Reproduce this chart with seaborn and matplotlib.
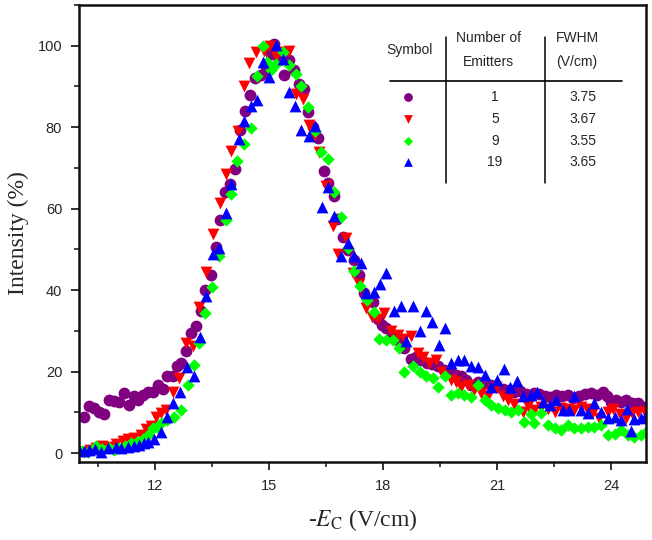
import numpy as np
import pandas as pd
import seaborn as sns
from matplotlib import pyplot as plt
from matplotlib.ticker import MultipleLocator

# emitters = 1 (purple circles)
x1 = [10.13, 10.27, 10.4, 10.53, 10.67, 10.8, 10.93, 11.06, 11.18, 11.31,
      11.44, 11.56, 11.68, 11.81, 11.94, 12.07, 12.2, 12.33, 12.47, 12.58,
      12.68, 12.82, 12.95, 13.08, 13.2, 13.33, 13.47, 13.6, 13.72, 13.85,
      13.98, 14.11, 14.24, 14.38, 14.5, 14.64, 14.79, 14.92, 15.05, 15.14,
      15.27, 15.4, 15.53, 15.66, 15.8, 15.93, 16.03, 16.15, 16.3, 16.44,
      16.56, 16.7, 16.8, 16.94, 17.07, 17.23, 17.38, 17.51, 17.6, 17.73,
      17.86, 17.97, 18.08, 18.23, 18.39, 18.56, 18.74, 18.87, 19.0, 19.15,
      19.3, 19.44, 19.6, 19.79, 19.92, 20.05, 20.18, 20.32, 20.5, 20.67,
      20.85, 21.0, 21.15, 21.3, 21.45, 21.6, 21.75, 21.97, 22.1, 22.25,
      22.4, 22.55, 22.7, 22.86, 23.0, 23.15, 23.3, 23.47, 23.62, 23.78,
      23.9, 24.0, 24.13, 24.26, 24.4, 24.55, 24.7, 24.88]
y1 = [8.9, 11.6, 11.0, 10.2, 9.6, 13.1, 12.9, 12.6, 14.7, 11.8,
      13.9, 13.0, 14.3, 15.0, 15.0, 16.7, 15.7, 18.8, 18.8, 21.3,
      22.1, 25.0, 29.5, 31.1, 35.0, 40.0, 43.6, 50.5, 57.2, 64.0,
      66.0, 69.7, 79.3, 84.0, 87.8, 92.1, 92.7, 94.0, 98.0, 100.5,
      96.6, 92.7, 96.4, 94.0, 90.6, 89.5, 83.7, 80.0, 77.3, 69.3,
      66.4, 63.0, 57.4, 53.1, 49.8, 47.4, 43.8, 39.2, 37.3, 37.0,
      32.8, 31.5, 30.7, 29.0, 27.8, 25.8, 23.1, 23.5, 22.9, 22.0,
      21.8, 21.3, 20.5, 19.6, 19.2, 18.8, 18.0, 16.7, 17.5, 17.3,
      16.8, 16.3, 15.8, 15.5, 15.0, 15.2, 14.6, 14.8, 14.5, 14.0,
      13.8, 14.2, 14.0, 14.3, 13.6, 14.0, 14.5, 14.8, 14.2, 15.0,
      14.0, 12.6, 13.0, 12.6, 13.0, 12.4, 12.2, 11.4]

# emitters = 5 (red down triangles)
x5 = [10.14, 10.3, 10.45, 10.62, 10.8, 10.97, 11.15, 11.3, 11.46, 11.63,
      11.76, 11.9, 12.03, 12.15, 12.29, 12.47, 12.64, 12.82, 12.99, 13.17,
      13.34, 13.52, 13.7, 13.87, 14.0, 14.18, 14.35, 14.48, 14.66, 14.88,
      15.03, 15.18, 15.34, 15.53, 15.71, 15.89, 16.05, 16.19, 16.32, 16.5,
      16.68, 16.82, 17.03, 17.2, 17.38, 17.55, 17.7, 17.86, 18.03, 18.2,
      18.39, 18.56, 18.74, 18.91, 19.05, 19.22, 19.39, 19.55, 19.79, 19.92,
      20.05, 20.23, 20.4, 20.58, 20.75, 20.97, 21.15, 21.28, 21.45, 21.68,
      21.82, 21.98, 22.15, 22.33, 22.51, 22.68, 22.86, 23.03, 23.2, 23.36,
      23.52, 23.69, 23.91, 24.06, 24.22, 24.39, 24.55, 24.7, 24.88]
y5 = [0.3, 0.8, 1.2, 1.7, 1.5, 2.2, 3.0, 3.5, 3.6, 4.4,
      5.8, 6.7, 8.9, 9.8, 10.6, 15.1, 18.4, 27.0, 26.2, 35.9,
      44.4, 53.7, 61.5, 68.5, 74.2, 79.1, 90.2, 95.7, 98.4, 98.8,
      100.0, 97.6, 98.4, 98.7, 88.2, 86.9, 80.5, 77.9, 73.8, 65.6,
      55.7, 48.8, 52.9, 44.3, 41.4, 35.6, 33.5, 32.8, 34.4, 30.0,
      29.0, 28.0, 28.7, 24.6, 23.5, 22.1, 22.9, 20.0, 18.0, 17.5,
      16.3, 16.7, 15.5, 14.8, 13.9, 16.3, 13.9, 13.0, 12.0, 10.2,
      11.5, 10.6, 11.2, 10.8, 10.2, 11.0, 10.8, 10.6, 11.4, 10.8,
      10.2, 8.5, 10.2, 10.8, 9.5, 8.5, 9.8, 10.2, 10.0]

# emitters = 9 (green diamonds)
x9 = [10.08, 10.23, 10.45, 10.6, 10.78, 10.92, 11.06, 11.22, 11.37, 11.52,
      11.68, 11.81, 11.94, 12.05, 12.16, 12.33, 12.51, 12.68, 12.86, 13.03,
      13.17, 13.32, 13.49, 13.68, 13.87, 14.0, 14.16, 14.35, 14.53, 14.68,
      14.83, 14.95, 15.05, 15.18, 15.36, 15.53, 15.71, 15.84, 16.03, 16.2,
      16.37, 16.54, 16.72, 16.89, 17.07, 17.23, 17.4, 17.57, 17.75, 17.9,
      18.08, 18.25, 18.43, 18.56, 18.78, 18.96, 19.13, 19.31, 19.44, 19.62,
      19.79, 19.97, 20.14, 20.32, 20.49, 20.67, 20.84, 21.02, 21.2, 21.37,
      21.55, 21.72, 21.88, 21.98, 22.16, 22.34, 22.51, 22.68, 22.86, 23.03,
      23.21, 23.38, 23.56, 23.74, 23.91, 24.09, 24.26, 24.44, 24.61, 24.79,
      24.92]
y9 = [0.5, 0.3, 1.7, 1.0, 1.3, 0.8, 1.2, 1.8, 2.4, 2.8,
      3.4, 4.5, 6.1, 6.5, 7.3, 8.0, 8.9, 10.6, 16.7, 21.7,
      27.0, 34.4, 40.8, 48.5, 57.2, 63.7, 71.8, 76.0, 79.8, 92.5,
      100.0, 96.0, 94.0, 95.6, 98.4, 95.2, 93.1, 90.2, 84.9, 79.0,
      73.8, 72.2, 64.0, 58.0, 50.4, 44.7, 41.1, 37.5, 34.6, 28.0,
      27.8, 27.7, 25.8, 20.0, 21.4, 20.0, 18.8, 18.4, 16.3, 18.8,
      14.3, 14.7, 14.3, 13.7, 16.7, 13.1, 11.8, 11.0, 10.6, 10.2,
      10.6, 7.7, 9.5, 7.3, 9.8, 6.9, 6.1, 5.7, 6.9, 6.1,
      6.1, 6.5, 6.5, 6.9, 4.4, 4.8, 5.7, 4.4, 4.0, 4.4,
      5.2]

# emitters = 19 (blue up triangles)
x19 = [10.01, 10.14, 10.27, 10.42, 10.58, 10.76, 10.97, 11.12, 11.28, 11.44,
       11.59, 11.7, 11.81, 11.98, 12.16, 12.33, 12.47, 12.67, 12.84, 13.02,
       13.19, 13.34, 13.52, 13.69, 13.87, 14.0, 14.22, 14.33, 14.53, 14.68,
       14.83, 15.01, 15.18, 15.36, 15.53, 15.68, 15.84, 16.06, 16.21, 16.39,
       16.54, 16.72, 16.89, 17.07, 17.24, 17.42, 17.55, 17.75, 17.93, 18.08,
       18.28, 18.46, 18.61, 18.78, 18.96, 19.13, 19.28, 19.46, 19.63, 19.79,
       19.97, 20.14, 20.32, 20.49, 20.67, 20.83, 21.0, 21.18, 21.33, 21.53,
       21.68, 21.88, 22.05, 22.2, 22.38, 22.55, 22.73, 22.9, 23.03, 23.21,
       23.38, 23.56, 23.74, 23.91, 24.09, 24.26, 24.42, 24.51, 24.61, 24.79,
       24.9]
y19 = [0.7, 0.5, 0.7, 0.9, 0.3, 1.2, 1.4, 1.2, 1.6, 1.8,
       2.0, 2.5, 2.8, 3.4, 5.2, 8.9, 12.4, 14.9, 21.1, 18.8,
       28.5, 38.5, 48.8, 50.4, 59.0, 66.0, 77.1, 81.6, 85.3, 86.6,
       96.0, 92.3, 100.3, 96.8, 88.6, 85.3, 79.2, 77.9, 80.4, 60.5,
       65.2, 58.2, 48.3, 51.6, 48.3, 46.7, 39.3, 39.5, 41.6, 44.1,
       34.8, 36.0, 27.4, 36.2, 29.9, 35.0, 32.1, 26.6, 30.7, 22.1,
       22.9, 22.9, 21.3, 21.1, 19.2, 16.3, 18.0, 20.6, 16.3, 17.6,
       13.9, 14.3, 15.1, 12.6, 11.8, 13.1, 10.6, 10.6, 13.9, 10.6,
       9.8, 12.2, 10.2, 8.5, 8.9, 8.1, 10.8, 5.5, 8.3, 8.5,
       8.9]

emitters = ["1", "5", "9", "19"]
fwhm = ["3.75", "3.67", "3.55", "3.65"]
colors = {"1": "#800080", "5": "#ff0000", "9": "#00ff00", "19": "#0000ff"}
markers = {"1": "o", "5": "v", "9": "D", "19": "^"}
msizes = {"1": 72, "5": 72, "9": 40, "19": 72}

df = pd.concat([
    pd.DataFrame({"E": x1, "I": y1, "n": "1"}),
    pd.DataFrame({"E": x5, "I": y5, "n": "5"}),
    pd.DataFrame({"E": x9, "I": y9, "n": "9"}),
    pd.DataFrame({"E": x19, "I": y19, "n": "19"}),
], ignore_index=True)

sns.set_style("ticks")
plt.rcParams["font.family"] = ["Liberation Sans", "DejaVu Sans"]
plt.rcParams["mathtext.fontset"] = "stix"

fig = plt.figure(figsize=(6.52, 5.4), dpi=100)
ax = fig.add_axes([0.121, 0.1444, 0.870, 0.8463])

for n in emitters:
    sub = df[df["n"] == n]
    sns.scatterplot(data=sub, x="E", y="I", marker=markers[n], color=colors[n],
                    s=msizes[n], linewidth=0, ax=ax, legend=False)

ax.set_xlim(10.0, 24.92)
ax.set_ylim(-2.2, 110)
ax.xaxis.set_major_locator(MultipleLocator(3))
ax.xaxis.set_minor_locator(MultipleLocator(1.5))
ax.yaxis.set_major_locator(MultipleLocator(20))
ax.yaxis.set_minor_locator(MultipleLocator(10))
ax.tick_params(which="major", direction="out", length=6, width=1.3, labelsize=10.5,
               color="#222222", pad=6)
ax.tick_params(which="minor", direction="out", length=3.5, width=1.2, color="#222222")
for sp in ax.spines.values():
    sp.set_linewidth(1.8)
    sp.set_color("#111111")

ax.set_xlabel(r"-$E_{\mathrm{C}}$ (V/cm)", family="Liberation Serif", fontsize=17, labelpad=10)
ax.set_ylabel("Intensity (%)", family="Liberation Serif", fontsize=17, labelpad=6)

# table-style legend (axes fraction coordinates)
def fx(px):
    return (px - 79) / 567.0

def fy(py):
    return (462 - py) / 457.0

tkw = dict(transform=ax.transAxes, fontsize=10, ha="center", va="center")
ax.text(fx(409), fy(50), "Symbol", **tkw)
ax.text(fx(488), fy(38), "Number of", **tkw)
ax.text(fx(488), fy(62), "Emitters", **tkw)
ax.text(fx(577), fy(38), "FWHM", **tkw)
ax.text(fx(577), fy(62), "(V/cm)", **tkw)
ax.plot([fx(390), fx(622)], [fy(81), fy(81)], transform=ax.transAxes, color="black", lw=1.2)
ax.plot([fx(446), fx(446)], [fy(37), fy(183)], transform=ax.transAxes, color="black", lw=1.1)
ax.plot([fx(545), fx(545)], [fy(37), fy(183)], transform=ax.transAxes, color="black", lw=1.1)
row_y = [97, 119, 141, 162]
for n, fw, ry in zip(emitters, fwhm, row_y):
    ax.scatter([fx(408)], [fy(ry)], transform=ax.transAxes, marker=markers[n],
               color=colors[n], s=msizes[n] * 0.55, linewidths=0)
    ax.text(fx(495), fy(ry), n, **tkw)
    ax.text(fx(583), fy(ry), fw, **tkw)

fig.savefig("out.png", dpi=100)
